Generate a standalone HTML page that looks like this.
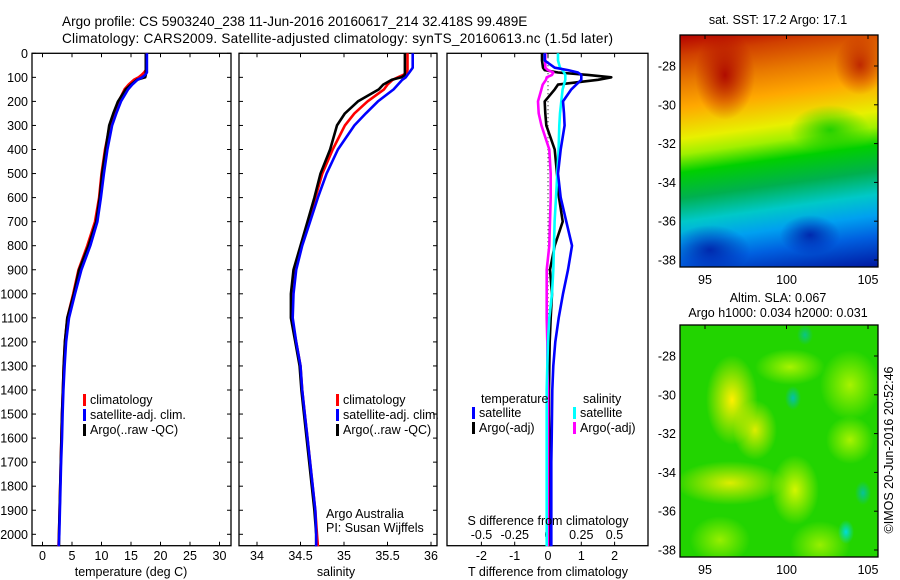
<!DOCTYPE html>
<html><head><meta charset="utf-8">
<style>
body{margin:0;background:#fff;width:900px;height:580px;overflow:hidden;font-family:"Liberation Sans",sans-serif;}
svg text{font-family:"Liberation Sans",sans-serif;font-size:12.5px;fill:#000;}
svg text.title{font-size:13.6px;}
.map{position:absolute;}
</style></head>
<body>
<div class="map" style="left:680px;top:35px;width:198px;height:232px;background:
radial-gradient(ellipse 30px 45px at 45px 40px, rgba(170,0,0,.9), rgba(170,0,0,0)),
radial-gradient(ellipse 25px 30px at 180px 30px, rgba(170,0,0,.7), rgba(170,0,0,0)),
radial-gradient(ellipse 40px 25px at 150px 95px, rgba(0,200,0,.8), rgba(0,200,0,0)),
radial-gradient(ellipse 30px 20px at 130px 200px, rgba(0,20,160,.8), rgba(0,20,160,0)),
radial-gradient(ellipse 40px 25px at 30px 215px, rgba(0,20,160,.8), rgba(0,20,160,0)),
linear-gradient(172deg,#b40000 0%,#d04000 8%,#e87800 18%,#ffa800 28%,#e8f000 40%,#a0f000 46%,#00d000 53%,#00b050 63%,#00c8c8 72%,#00a0f0 80%,#0060e0 88%,#0018a0 100%);"></div>
<div class="map" style="left:680px;top:325px;width:198px;height:232px;background:
radial-gradient(ellipse 8px 12px at 113px 73px, rgba(0,190,190,.9), rgba(0,190,190,0)),
radial-gradient(ellipse 8px 12px at 166px 207px, rgba(0,220,220,1), rgba(0,220,220,0)),
radial-gradient(ellipse 8px 12px at 183px 168px, rgba(0,190,190,.8), rgba(0,190,190,0)),
radial-gradient(ellipse 8px 10px at 125px 10px, rgba(0,190,190,.7), rgba(0,190,190,0)),
radial-gradient(ellipse 26px 45px at 52px 75px, rgba(255,240,0,1), rgba(220,255,0,0)),
radial-gradient(ellipse 22px 30px at 75px 105px, rgba(240,240,0,.9), rgba(220,255,0,0)),
radial-gradient(ellipse 55px 22px at 50px 158px, rgba(240,240,0,.9), rgba(220,255,0,0)),
radial-gradient(ellipse 24px 35px at 115px 165px, rgba(230,250,0,.9), rgba(220,255,0,0)),
radial-gradient(ellipse 35px 18px at 110px 42px, rgba(200,250,0,.8), rgba(220,255,0,0)),
radial-gradient(ellipse 30px 35px at 170px 60px, rgba(200,250,0,.8), rgba(220,255,0,0)),
radial-gradient(ellipse 24px 24px at 170px 115px, rgba(200,250,0,.8), rgba(220,255,0,0)),
radial-gradient(ellipse 30px 24px at 40px 215px, rgba(200,250,0,.7), rgba(220,255,0,0)),
radial-gradient(ellipse 30px 24px at 140px 220px, rgba(200,250,0,.7), rgba(220,255,0,0)),
#22d400;"></div>
<svg id="chart" width="900" height="580" style="position:absolute;left:0;top:0">
<text class="title" x="62" y="26">Argo profile: CS 5903240_238 11-Jun-2016 20160617_214 32.418S 99.489E</text>
<text class="title" x="62" y="43" textLength="551">Climatology: CARS2009. Satellite-adjusted climatology: synTS_20160613.nc (1.5d later)</text>
<g id="p1"></g>
<g id="p2"></g>
<g id="p3"></g>
<g id="maps"></g>
<text x="778" y="24" text-anchor="middle">sat. SST: 17.2 Argo: 17.1</text>
<text x="778" y="302" text-anchor="middle">Altim. SLA: 0.067</text>
<text x="778" y="317" text-anchor="middle">Argo h1000: 0.034 h2000: 0.031</text>
<text transform="translate(893,450) rotate(-90)" text-anchor="middle">©IMOS 20-Jun-2016 20:52:46</text>
</svg>
<script>
// depth grid (m)
const depths=[0,30,60,70,80,90,100,110,130,150,200,250,300,400,500,600,700,800,900,1000,1100,1200,1300,1400,1500,1600,1700,1800,1900,2000,2050];
const tempClim=[17.6,17.6,17.6,17.5,17.2,16.8,16.3,15.5,14.6,13.9,12.9,12.1,11.4,10.6,10.0,9.6,8.9,7.6,6.1,5.2,4.2,3.8,3.6,3.45,3.3,3.2,3.1,3.0,2.9,2.8,2.7];
const tempSat=[17.7,17.7,17.7,17.7,17.7,17.4,16.9,16.1,15.2,14.5,13.3,12.5,11.8,11.0,10.4,9.9,9.3,8.1,6.6,5.5,4.5,4.0,3.75,3.55,3.4,3.3,3.15,3.05,2.95,2.85,2.75];
const tempArgo=[17.5,17.5,17.5,17.5,17.5,17.5,17.4,16.0,15.0,14.1,12.8,12.0,11.3,10.7,10.1,9.7,9.1,7.8,6.2,5.3,4.2,3.8,3.6,3.45,3.3,3.2,3.1,3.0,2.9,2.8,2.8];
const salClim=[35.73,35.73,35.73,35.73,35.72,35.68,35.62,35.56,35.50,35.46,35.27,35.12,35.01,34.87,34.75,34.67,34.59,34.51,34.43,34.40,34.40,34.45,34.50,34.52,34.55,34.58,34.61,34.64,34.67,34.69,34.70];
const salSat=[35.79,35.79,35.79,35.77,35.75,35.73,35.71,35.67,35.62,35.57,35.39,35.25,35.12,34.93,34.80,34.70,34.61,34.52,34.45,34.42,34.41,34.45,34.50,34.52,34.55,34.58,34.61,34.64,34.67,34.68,34.68];
const salArgo=[35.70,35.70,35.70,35.70,35.70,35.70,35.66,35.55,35.45,35.40,35.16,35.01,34.92,34.84,34.73,34.66,34.58,34.50,34.42,34.39,34.39,34.44,34.49,34.51,34.54,34.57,34.60,34.63,34.66,34.68,34.68];
const dTSat=[-0.1,-0.1,0.2,0.6,0.9,1.0,1.0,1.0,0.85,0.7,0.45,0.48,0.5,0.38,0.3,0.38,0.55,0.72,0.6,0.45,0.32,0.22,0.16,0.13,0.12,0.11,0.1,0.1,0.1,0.1,0.1];
const dTArgo=[-0.18,-0.18,-0.15,-0.1,0.3,1.2,1.9,1.5,0.3,0.2,-0.1,-0.08,-0.05,0.2,0.27,0.33,0.44,0.2,0.06,0.12,0.08,0.05,0.04,0.03,0.03,0.04,0.03,0.05,0.03,0.03,0.03];
const dSSat=[0.075,0.075,0.09,0.11,0.12,0.13,0.13,0.13,0.12,0.11,0.1,0.09,0.085,0.08,0.07,0.06,0.05,0.045,0.04,0.03,0.01,0.0,-0.005,-0.01,-0.01,-0.01,-0.01,-0.01,-0.01,-0.01,-0.01];
const dSArgo=[-0.02,-0.02,-0.02,0.0,0.04,0.03,-0.01,-0.015,-0.04,-0.05,-0.075,-0.07,-0.05,0.01,0.02,0.02,0.015,0.01,-0.01,-0.01,-0.01,-0.005,-0.005,0.0,0.0,0.0,0.0,0.0,0.0,0.0,0.0];
const tTicks=[0,5,10,15,20,25,30];
const sTicks=[34,34.5,35,35.5,36];
const dTTicks=[-2,-1,0,1,2];
const dSTicks=[-0.5,-0.25,0,0.25,0.5];
const dSTickLabels=['-0.5','-0.25','0','0.25','0.5'];
const depthTicks=[0,100,200,300,400,500,600,700,800,900,1000,1100,1200,1300,1400,1500,1600,1700,1800,1900,2000];
const lonTicks=[95,100,105];
const latTicks=[-28,-30,-32,-34,-36,-38];

const NS='http://www.w3.org/2000/svg';
function mk(parent,tag,attrs,txt){const e=document.createElementNS(NS,tag);for(const k in attrs)e.setAttribute(k,attrs[k]);if(txt!==undefined)e.textContent=txt;parent.appendChild(e);return e;}
const top0=53.3, bot=545.7;
const yD=d=>top0+d*0.2405;
const xT=v=>42.5+v*5.9;
const xS=v=>257+(v-34)*87;
const xDT=v=>548+v*33.3;
const xDS=v=>548+v*133;

function frame(g,x0,x1,name){
  const r=mk(g,'rect',{x:x0,y:top0,width:x1-x0,height:bot-top0,fill:'none',stroke:'#000','stroke-width':1.3});
  
}
function line(g,xs,xf,color,name,w){
  let d='';xs.forEach((v,i)=>{d+=(i?'L':'M')+xf(v).toFixed(1)+','+yD(depths[i]).toFixed(1);});
  const p=mk(g,'path',{d:d,fill:'none',stroke:color,'stroke-width':w||2.6,'stroke-linejoin':'round'});
  
}
function xTicks(g,ticks,xf,labels,ly){
  ticks.forEach((t,i)=>{const x=xf(t);
    mk(g,'line',{x1:x,x2:x,y1:top0,y2:top0+4,stroke:'#000'});
    mk(g,'line',{x1:x,x2:x,y1:bot,y2:bot-4,stroke:'#000'});
    if(labels){const tx=mk(g,'text',{x:x,y:ly,'text-anchor':'middle'},labels[i]);
      }
  });
}
function yTicks(g,x0,x1){depthTicks.forEach(d=>{const y=yD(d);
  mk(g,'line',{x1:x0,x2:x0+4,y1:y,y2:y,stroke:'#000'});mk(g,'line',{x1:x1,x2:x1-4,y1:y,y2:y,stroke:'#000'});});}
function legend(g,x,y,items){items.forEach((it,i)=>{
  mk(g,'rect',{x:x,y:y+i*15-10,width:3,height:12,fill:it[0]});
  const t=mk(g,'text',{x:x+7,y:y+i*15},it[1]);
  });}

// panel 1
const p1=document.getElementById('p1');
frame(p1,32,231,'temperature');
yTicks(p1,32,231);
depthTicks.forEach(d=>{const t=mk(p1,'text',{x:28,y:yD(d)+4.5,'text-anchor':'end'},String(d));
  });
xTicks(p1,tTicks,xT,tTicks.map(String),560);
line(p1,tempClim,xT,'#f00','temp-climatology-line');
line(p1,tempArgo,xT,'#000','temp-argo-line');
line(p1,tempSat,xT,'#00f','temp-satellite-line');
legend(p1,83,404,[['#f00','climatology'],['#00f','satellite-adj. clim.'],['#000','Argo(..raw -QC)']]);
let t=mk(p1,'text',{x:131,y:576,'text-anchor':'middle'},'temperature (deg C)');

// panel 2
const p2=document.getElementById('p2');
frame(p2,239,437,'salinity');
yTicks(p2,239,437);
xTicks(p2,sTicks,xS,sTicks.map(String),560);
line(p2,salClim,xS,'#f00','sal-climatology-line');
line(p2,salArgo,xS,'#000','sal-argo-line');
line(p2,salSat,xS,'#00f','sal-satellite-line');
legend(p2,336,404,[['#f00','climatology'],['#00f','satellite-adj. clim.'],['#000','Argo(..raw -QC)']]);
t=mk(p2,'text',{x:326,y:518},'Argo Australia');
t=mk(p2,'text',{x:326,y:532},'PI: Susan Wijffels');
t=mk(p2,'text',{x:336,y:576,'text-anchor':'middle'},'salinity');

// panel 3
const p3=document.getElementById('p3');
frame(p3,447,648,'difference');
xTicks(p3,dTTicks,xDT,dTTicks.map(String),560);
dSTicks.forEach((s,i)=>{const tx=mk(p3,'text',{x:xDS(s),y:539,'text-anchor':'middle'},dSTickLabels[i]);
  });
mk(p3,'line',{x1:xDT(0),x2:xDT(0),y1:top0,y2:bot,stroke:'#000','stroke-dasharray':'1,3'});
line(p3,dTArgo,xDT,'#000','t-diff-argo-line',2.6);
line(p3,dSArgo,xDS,'#f0f','s-diff-argo-line',2.6);
line(p3,dSSat,xDS,'#0ff','s-diff-satellite-line',2.6);
line(p3,dTSat,xDT,'#00f','t-diff-satellite-line',2.6);
t=mk(p3,'text',{x:481,y:403},'temperature');
t=mk(p3,'text',{x:583,y:403},'salinity');
legend(p3,472,417,[['#00f','satellite'],['#000','Argo(-adj)']]);
legend(p3,573,417,[['#0ff','satellite'],['#f0f','Argo(-adj)']]);
t=mk(p3,'text',{x:548,y:525,'text-anchor':'middle'},'S difference from climatology');
t=mk(p3,'text',{x:548,y:576,'text-anchor':'middle'},'T difference from climatology');

// map axes
const mg=document.getElementById('maps');
const xLon=l=>705+(l-95)*16.3;
[[35,267,66,260],[325,557,356,550]].forEach((m,k)=>{
  const r=mk(mg,'rect',{x:680,y:m[0],width:198,height:m[1]-m[0],fill:'none',stroke:'#000','stroke-width':1.3});
  
  const yL=l=>m[2]+(l+28)*(m[2]-m[3])/10;
  latTicks.forEach(l=>{const y=yL(l);mk(mg,'line',{x1:878,x2:874,y1:y,y2:y,stroke:'#000'});
    const tx=mk(mg,'text',{x:676,y:y+4.5,'text-anchor':'end'},String(l));});
  lonTicks.forEach(l=>{const x=xLon(l);mk(mg,'line',{x1:x,x2:x,y1:m[0],y2:m[0]+4,stroke:'#000'});
    const tx=mk(mg,'text',{x:x,y:m[1]+17,'text-anchor':'middle'},String(l));});
});
</script>
</body></html>
